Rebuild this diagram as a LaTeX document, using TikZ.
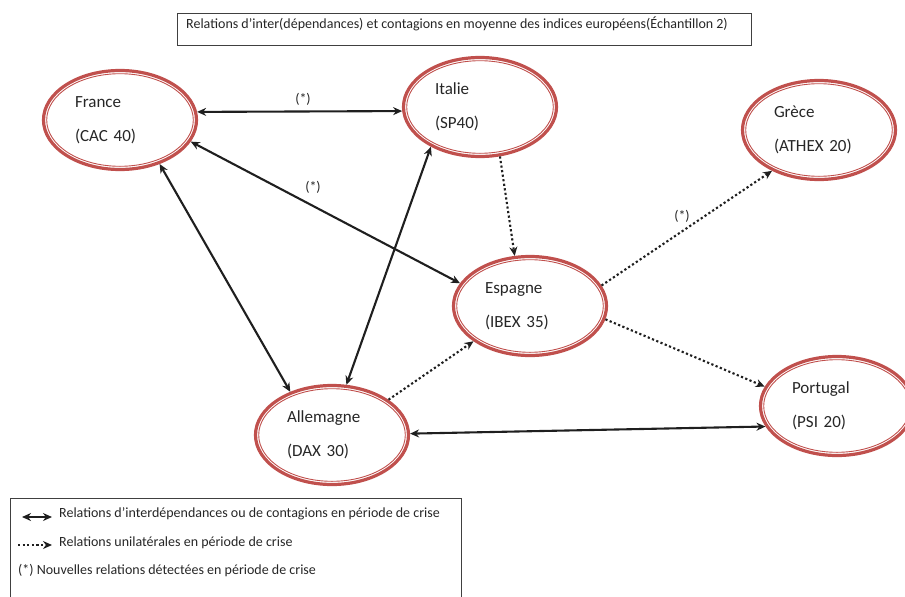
\documentclass[tikz,border=0pt]{standalone}
\usepackage{fontspec}
\setmainfont{Carlito}
\usetikzlibrary{arrows.meta,shapes.geometric}

\definecolor{idxred}{HTML}{C0504D}
\definecolor{txtgray}{HTML}{262626}

\begin{document}
\begin{tikzpicture}[x=1pt,y=-1pt,>={Stealth[length=9pt,width=8pt]},
  indice/.style={ellipse, draw=idxred, line width=3.2pt, minimum width=153pt,
    minimum height=99pt, text width=90pt, align=left,
    font=\fontsize{17}{34}\selectfont, text=txtgray},
  bi/.style={<->, line width=2.1pt, black!88},
  uni/.style={->, line width=2.1pt, black!88, dash pattern=on 2.2pt off 2.4pt},
  petit/.style={font=\fontsize{14}{16}\selectfont, text=txtgray, inner sep=0pt}]
  \useasboundingbox (0,0) rectangle (905,597);
  \clip (0,0) rectangle (905,597);
  % title
  \draw[black!75, line width=0.8pt] (177,13) rectangle (751,45);
  \node[petit, anchor=west] (titre) at (186,24)
    {Relations d’inter(dépendances) et contagions en moyenne des indices européens(Échantillon 2)};
  % indices
  \node[indice] (france) at (120,120) {France\\(CAC 40)};
  \node[indice] (italie) at (480,107) {Italie\\(SP40)};
  \node[indice] (grece) at (819,130) {Grèce\\(ATHEX 20)};
  \node[indice] (espagne) at (530,306) {Espagne\\(IBEX 35)};
  \node[indice] (allemagne) at (332,435) {Allemagne\\(DAX 30)};
  \node[indice] (portugal) at (837,406) {Portugal\\(PSI 20)};
  \foreach \n in {france,italie,grece,espagne,allemagne,portugal}
    \draw[idxred, line width=0.9pt] (\n.center) ellipse (73.3pt and 46.3pt);
  % relations
  \draw[bi] (france.6) -- (italie.183);
  \draw[bi] (france.-17) -- (espagne.162);
  \draw[bi] (france.-48) -- (allemagne.134);
  \draw[bi] (italie.219) -- (allemagne.74);
  \draw[bi] (allemagne.1) -- (portugal.196);
  \draw[uni] (italie.292) -- (espagne.107);
  \draw[uni] (allemagne.32) -- (espagne.212);
  \draw[uni] (espagne.16) -- (grece.221);
  \draw[uni] (espagne.-10) -- (portugal.165);
  \node[petit] (e1) at (303,99) {(*)};
  \node[petit] (e2) at (313,187) {(*)};
  \node[petit] (e3) at (682,216) {(*)};
  % legend
  \draw[black!75, line width=0.8pt] (10,498) rectangle (461,620);
  \coordinate (l1a) at (22,517);
  \coordinate (l1b) at (52,517);
  \coordinate (l2a) at (18,545);
  \coordinate (l2b) at (52,545);
  \draw[bi] (l1a) -- (l1b);
  \draw[uni] (l2a) -- (l2b);
  \node[petit, anchor=west] (leg1) at (59,514)
    {Relations d’interdépendances ou de contagions en période de crise};
  \node[petit, anchor=west] (leg2) at (59,543)
    {Relations unilatérales en période de crise};
  \node[petit, anchor=west] (leg3) at (18,571)
    {(*) Nouvelles relations détectées en période de crise};
\end{tikzpicture}
\end{document}
